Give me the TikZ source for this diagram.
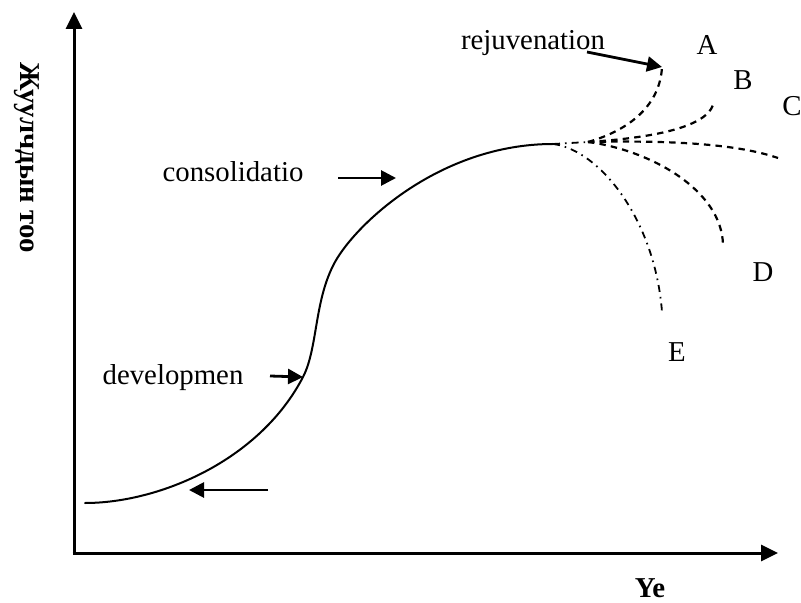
\documentclass[tikz,border=0pt]{standalone}
\usepackage{fontspec}
\setmainfont{Liberation Serif}
\usetikzlibrary{arrows.meta,positioning,calc}
\definecolor{inkblack}{RGB}{0,0,0}
\tikzset{
  axisline/.style={-{Triangle[length=8.5pt,width=8pt]}, line width=1.5pt, draw=inkblack},
  phasearrow/.style={-{Triangle[length=7.5pt,width=7.5pt]}, line width=1.4pt, draw=inkblack},
  lifecurve/.style={line width=1pt, draw=inkblack, line cap=round},
  branch/.style={line width=1.1pt, draw=inkblack, dash pattern=on 3.2pt off 2.6pt},
  declinebranch/.style={line width=0.9pt, draw=inkblack, dash pattern=on 3.5pt off 2.5pt on 0.8pt off 2.5pt},
  phaselabel/.style={font=\fontsize{14.4}{17}\selectfont, inner sep=0pt},
  axislabel/.style={font=\fontsize{14.4}{17}\selectfont\bfseries, inner sep=0pt}
}

\begin{document}
\begin{tikzpicture}[x=0.5pt, y=-0.5pt]
  \useasboundingbox (0,0) rectangle (801,603);

  % axes
  \coordinate (origin) at (74,553);
  \coordinate (ytip) at (74,12);
  \coordinate (xtip) at (778,553);
  \draw[axisline] (origin) -- (ytip);
  \draw[axisline] ($(origin)+(-1.5,0)$) -- (xtip);
  \node[axislabel, rotate=-90] (ylabel) at (27,158) {Жуулчдын тоо};
  \node[axislabel] (xlabel) at (650,588) {Ye};

  % life cycle curve
  \coordinate (start) at (85,503);
  \coordinate (devpoint) at (303,377);
  \coordinate (bend) at (335,262);
  \coordinate (peak) at (553,144);
  \coordinate (fork) at (588,142);
  \draw[lifecurve] (start) .. controls (160,503) and (260,460) .. (devpoint)
    .. controls (318,348) and (314,300) .. (bend)
    .. controls (356,224) and (440,144) .. (peak);

  % branches after stagnation
  \draw[declinebranch] (peak) -- (fork);
  \draw[branch] (fork) .. controls (630,130) and (660,105) .. (662,67) coordinate (endA);
  \draw[branch] (fork) .. controls (650,138) and (705,128) .. (713,105) coordinate (endB);
  \draw[branch] (fork) .. controls (680,140) and (740,145) .. (778,158) coordinate (endC);
  \draw[branch] (fork) .. controls (650,150) and (722,190) .. (723,245) coordinate (endD);
  \draw[declinebranch] (peak) .. controls (600,150) and (655,220) .. (662,312) coordinate (endE);

  \node[phaselabel] (labA) at (707,45) {A};
  \node[phaselabel] (labB) at (743,80) {B};
  \node[phaselabel] (labC) at (792,106) {C};
  \node[phaselabel] (labD) at (763,272) {D};
  \node[phaselabel] (labE) at (677,352) {E};

  % stage labels and pointers
  \node[phaselabel] (rejuv) at (533,43) {rejuvenation};
  \node[phaselabel] (consol) at (233,172) {consolidatio};
  \node[phaselabel] (develop) at (173,378) {developmen};

  \coordinate (rejuvfrom) at (587,52);
  \coordinate (consolfrom) at (338,178);
  \coordinate (consolto) at (396,178);
  \coordinate (devfrom) at (270,376);
  \coordinate (startfrom) at (268,490);
  \coordinate (startto) at (189,490);
  \draw[phasearrow] (rejuvfrom) -- (endA);
  \draw[phasearrow] (consolfrom) -- (consolto);
  \draw[phasearrow] (devfrom) -- (devpoint);
  \draw[phasearrow] (startfrom) -- (startto);
\end{tikzpicture}
\end{document}
